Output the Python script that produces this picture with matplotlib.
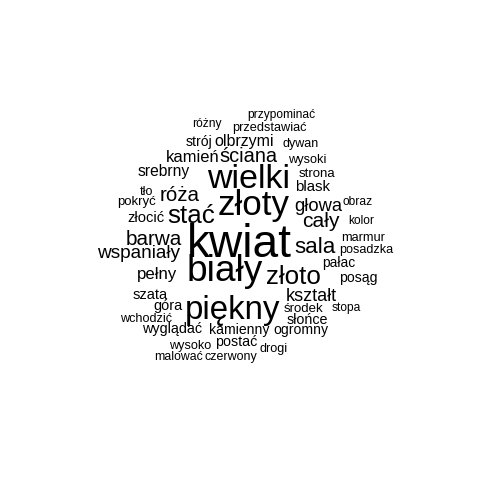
import matplotlib
matplotlib.use("Agg")
import matplotlib.pyplot as plt

# word cloud data: words and their relative weight (frequency-like scale)
words = ["kwiat", "biały", "złoty", "wielki", "piękny", "złoto", "stać", "sala",
         "cały", "róża", "barwa", "ściana", "wspaniały", "głowa", "kształt",
         "pełny", "kamień", "olbrzymi", "srebrny", "blask", "złocić", "szata",
         "góra", "wyglądać", "postać", "posąg", "słońce", "kamienny", "ogromny",
         "strój", "pałac", "środek", "pokryć", "strona", "marmur", "wysoki",
         "przedstawiać", "posadzka", "dywan", "wchodzić", "wysoko", "drogi",
         "czerwony", "tło", "przypominać", "malować", "różny", "obraz",
         "kolor", "stopa"]
weights = [46, 37, 35, 34, 33, 26, 26, 22.4,
           21, 20.5, 20.6, 20, 19, 18.4, 18,
           16.7, 16.5, 16, 15.6, 15, 14.8, 14.6,
           14.5, 14.4, 14.3, 14, 14.2, 14, 14,
           14, 13.8, 13.3, 13.2, 13.3, 12.8, 12.7,
           12.7, 12.6, 12.5, 12.6, 12.6, 12.6,
           12.5, 12.5, 12, 12.2, 12, 12,
           12, 12]

# layout (pixel positions of each word: centre x, baseline y)
layout_x = [239, 225, 254, 249, 233, 293, 191, 315,
            321, 180, 154, 248, 139, 318, 311,
            157, 193, 244, 164, 313, 146, 150,
            168, 172, 236, 358, 307, 239, 301,
            199, 339, 303, 137, 317, 363, 307,
            269, 366, 301, 146, 190, 274,
            231, 146, 281, 179, 207, 358,
            361, 346]
layout_y = [257, 281, 215, 188, 319, 284, 223, 253,
            227, 201, 245, 162, 258, 211, 301,
            279, 162, 146, 176, 191, 222, 299,
            310, 333, 346, 282, 324, 334, 334,
            146, 267, 312, 205, 177, 241, 163,
            131, 253, 147, 322, 349, 352,
            360, 195, 118, 360, 127, 205,
            224, 311]

W = H = 480
DPI = 100
fig = plt.figure(figsize=(W / DPI, H / DPI), dpi=DPI, facecolor="white")
ax = fig.add_axes([0, 0, 1, 1])
ax.set_xlim(0, W)
ax.set_ylim(H, 0)
ax.axis("off")

for w, s, x, y in zip(words, weights, layout_x, layout_y):
    ax.text(x, y, w, fontsize=s * 72 / DPI, family="Liberation Sans",
            ha="center", va="baseline", color="black")

fig.savefig("out.png", dpi=DPI, facecolor="white")
